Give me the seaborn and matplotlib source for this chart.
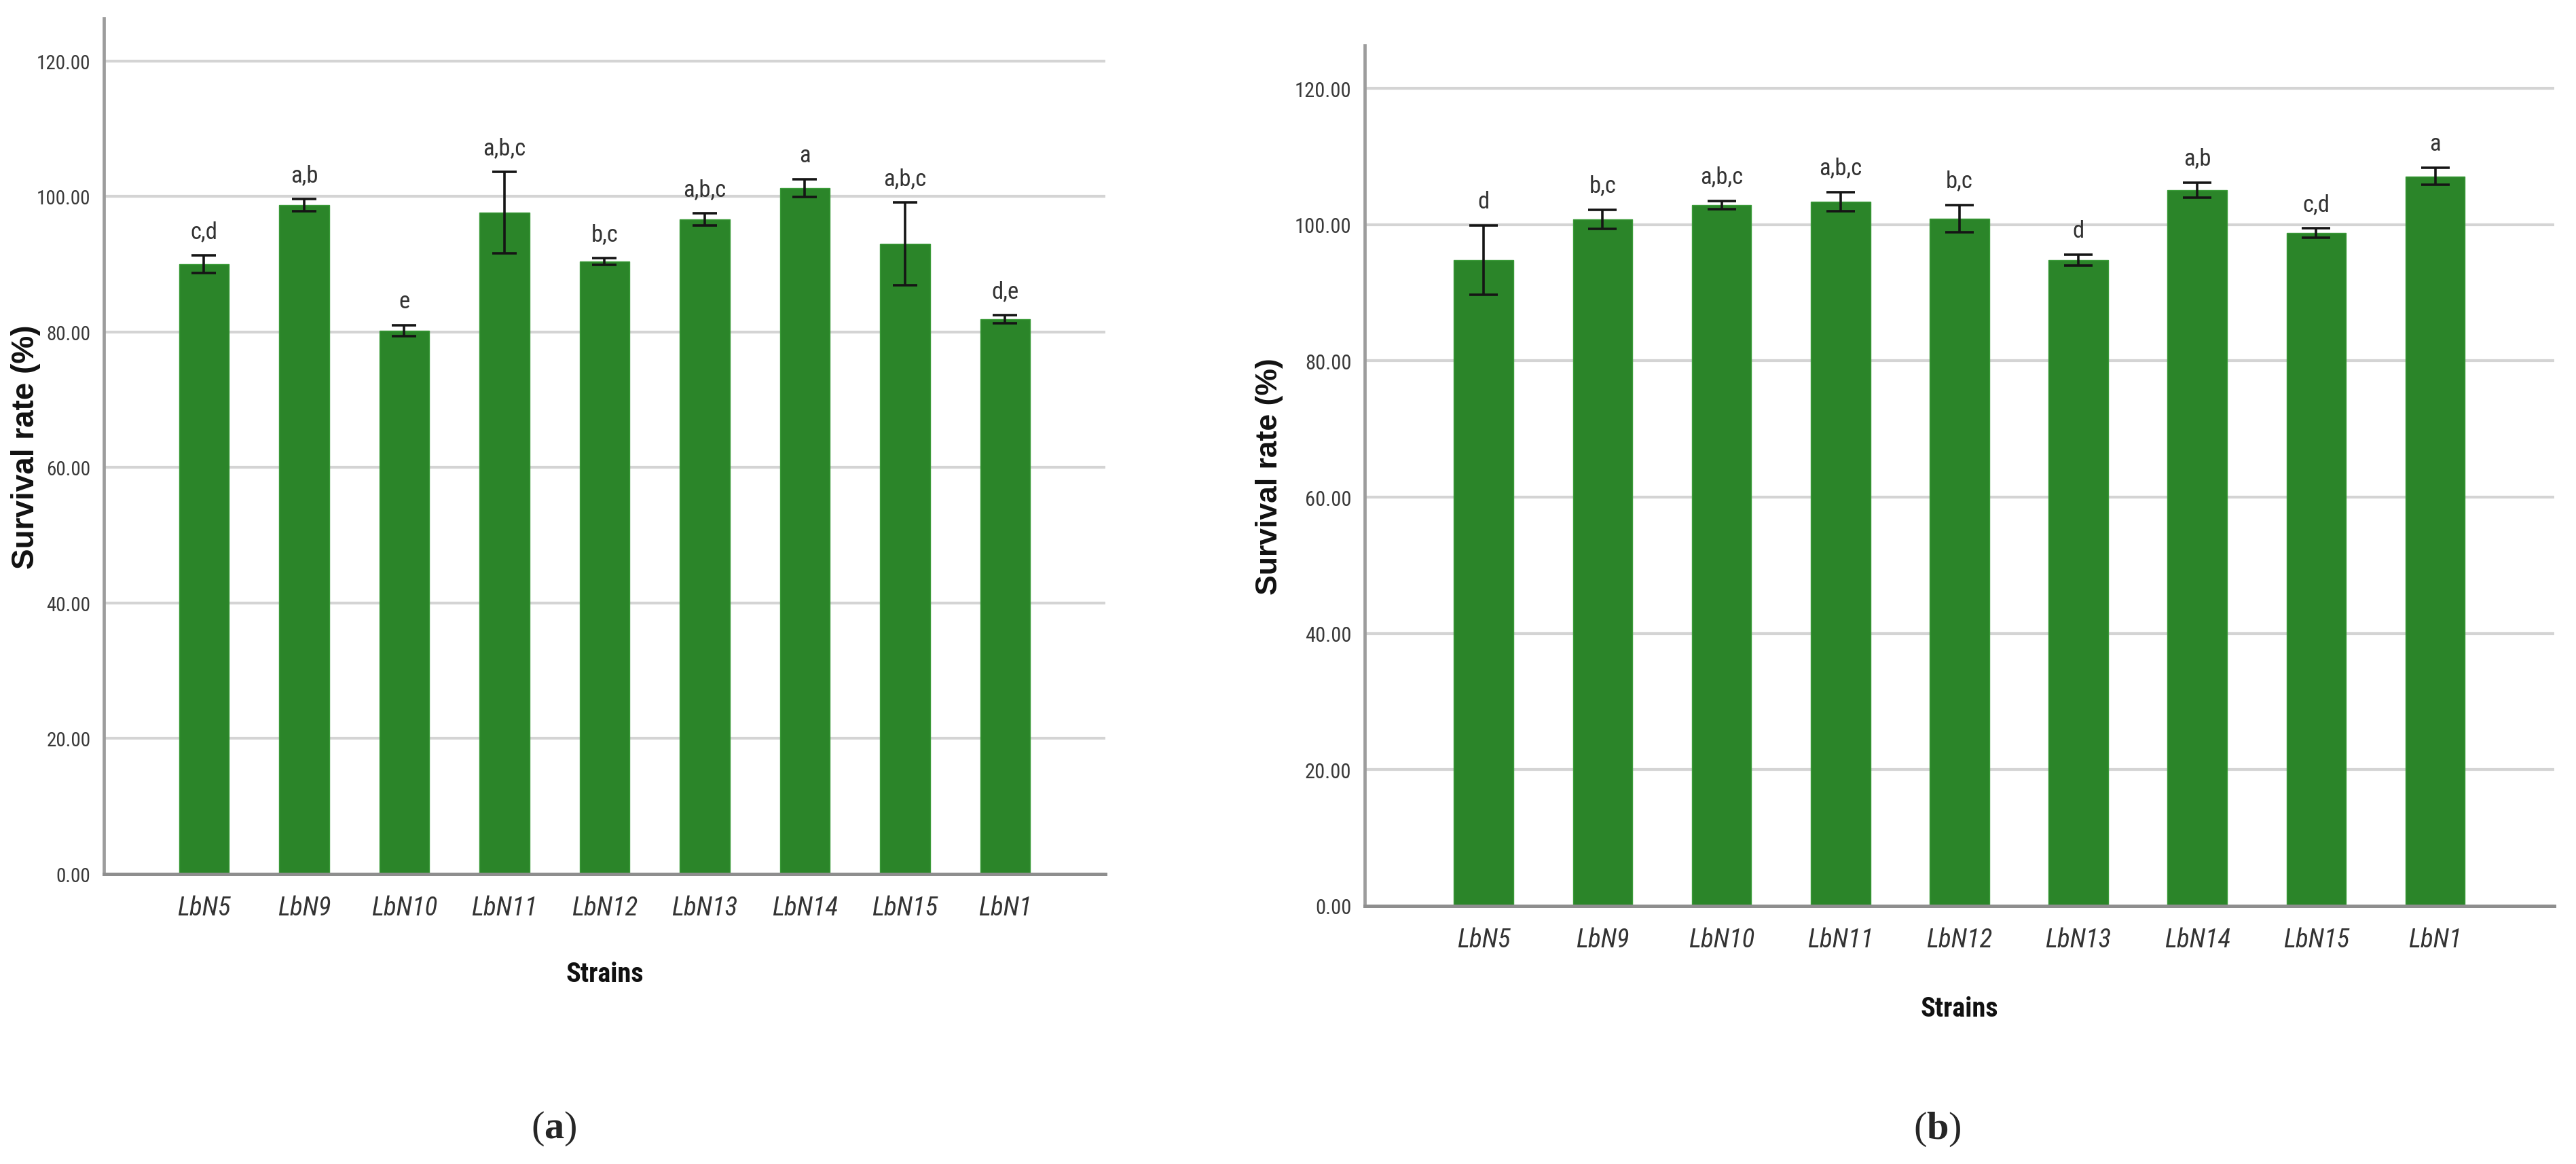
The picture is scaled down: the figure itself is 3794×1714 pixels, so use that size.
import matplotlib
matplotlib.use('Agg')
import matplotlib.pyplot as plt
import numpy as np
import pandas as pd
import seaborn as sns

# survival rate data
strains = ['LbN5', 'LbN9', 'LbN10', 'LbN11', 'LbN12', 'LbN13', 'LbN14', 'LbN15', 'LbN1']

surv_a = [90.0, 98.7, 80.2, 97.6, 90.4, 96.6, 101.2, 93.0, 81.9]
err_a = [1.3, 0.9, 0.8, 6.0, 0.5, 0.9, 1.3, 6.1, 0.6]
letters_a = ['c,d', 'a,b', 'e', 'a,b,c', 'b,c', 'a,b,c', 'a', 'a,b,c', 'd,e']

surv_b = [94.8, 100.8, 102.9, 103.4, 100.9, 94.8, 105.1, 98.8, 107.1]
err_b = [5.1, 1.4, 0.6, 1.4, 2.0, 0.8, 1.1, 0.7, 1.2]
letters_b = ['d', 'b,c', 'a,b,c', 'a,b,c', 'b,c', 'd', 'a,b', 'c,d', 'a']

yticks = [0, 20, 40, 60, 80, 100, 120]

bar_green = '#2b8529'
narrow = ['Roboto Condensed', 'Archivo Narrow', 'Liberation Sans', 'DejaVu Sans']

sns.set_theme(style='white')
plt.rcParams['font.family'] = ['Liberation Sans', 'DejaVu Sans']
plt.rcParams['mathtext.fontset'] = 'custom'
plt.rcParams['mathtext.rm'] = 'Liberation Serif'
plt.rcParams['mathtext.bf'] = 'Liberation Serif:bold'

fig = plt.figure(figsize=(37.94, 17.15), dpi=100)
ax_a = fig.add_axes([0.0403, 0.249, 0.3888, 0.7347])
ax_b = fig.add_axes([0.5298, 0.2216, 0.4617, 0.7388])


def draw_panel(ax, values, errs, letters, lab_x, lab_y, tick_size, cap, ylab_size):
    df = pd.DataFrame({'Strains': strains, 'Survival': values})
    sns.barplot(data=df, x='Strains', y='Survival', order=strains, color=bar_green,
                saturation=1, width=0.5, errorbar=None, edgecolor='#3a9a38',
                linewidth=1.0, ax=ax, zorder=2)
    pos = np.arange(len(strains))
    ax.errorbar(pos, values, yerr=errs, fmt='none', ecolor='#151515', elinewidth=2.6,
                capsize=cap, capthick=2.6, zorder=3)
    for i in range(len(strains)):
        ax.text(pos[i], values[i] + errs[i] + 1.9, letters[i], ha='center', va='bottom',
                fontsize=25, color='#333333', family=narrow)

    ax.set_xlim(-1, 9)
    ax.set_ylim(0, 126.3)
    ax.set_yticks(yticks)
    ax.set_yticklabels(['%.2f' % t for t in yticks], family=narrow, fontsize=tick_size,
                       color='#3a3a3a')
    ax.set_xticks(pos)
    ax.set_xticklabels(strains, family=narrow, style='italic', fontsize=28, color='#333333')
    ax.tick_params(axis='both', length=0)
    ax.tick_params(axis='y', pad=14)
    ax.tick_params(axis='x', pad=22)

    ax.set_axisbelow(True)
    ax.yaxis.grid(True, color='#d4d4d4', linewidth=3.0)
    ax.xaxis.grid(False)
    for s in ['top', 'right']:
        ax.spines[s].set_visible(False)
    ax.spines['left'].set_color('#9c9c9c')
    ax.spines['left'].set_linewidth(3.4)
    ax.spines['bottom'].set_color('#8e8e8e')
    ax.spines['bottom'].set_linewidth(3.6)

    ax.set_xlabel('Strains', fontsize=29, fontweight='bold', family=narrow, color='#111111')
    ax.xaxis.set_label_coords(0.5, lab_x)
    ax.xaxis.label.set_va('center')
    ax.set_ylabel('Survival rate (%)', fontsize=ylab_size, fontweight='bold', color='#111111')
    ax.yaxis.set_label_coords(lab_y[0], lab_y[1])
    ax.yaxis.label.set_va('center')


draw_panel(ax_a, surv_a, err_a, letters_a, -0.117, (-0.078, 0.50), 21, 13, 33)
draw_panel(ax_b, surv_b, err_b, letters_b, -0.119, (-0.080, 0.50), 22, 15, 32)

fig.text(0.215, 0.031, r'($\mathbf{a}$)', ha='center', va='center', fontsize=42,
         family='Liberation Serif')
fig.text(0.752, 0.030, r'($\mathbf{b}$)', ha='center', va='center', fontsize=42,
         family='Liberation Serif')

fig.savefig('out.png', dpi=100, facecolor='white')
